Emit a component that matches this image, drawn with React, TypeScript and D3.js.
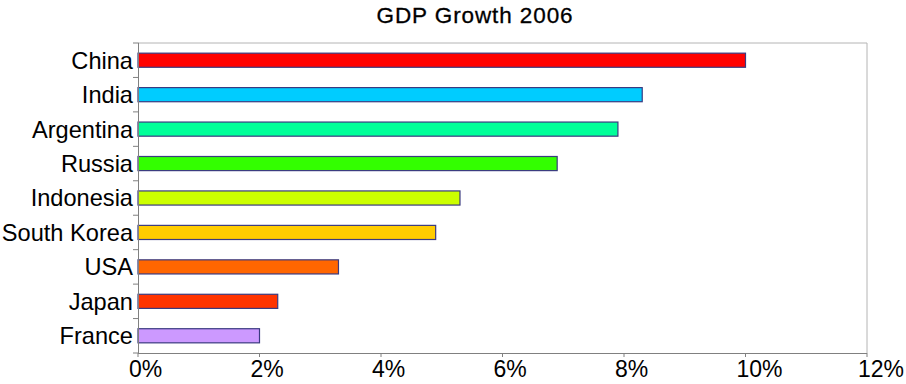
import React from "react";
import * as d3 from "d3";

const countries = ["China", "India", "Argentina", "Russia", "Indonesia", "South Korea", "USA", "Japan", "France"];
const growth = [10.0, 8.3, 7.9, 6.9, 5.3, 4.9, 3.3, 2.3, 2.0];
const barColors = ["#ff0000", "#00ccff", "#00ff99", "#33ff00", "#ccff00", "#ffcc00", "#ff6600", "#ff3300", "#cc99ff"];
const xTicks = [0, 2, 4, 6, 8, 10, 12];

const width = 906;
const height = 384;
const margin = { top: 43, right: 39, bottom: 31, left: 138 };

export default function App() {
  const innerW = width - margin.left - margin.right;
  const innerH = height - margin.top - margin.bottom;

  const x = d3.scaleLinear().domain([0, 12]).range([0, innerW]);
  const pad = 0.59;
  const y = d3.scaleBand<string>()
    .domain(countries)
    .range([0, innerH])
    .paddingInner(pad)
    .paddingOuter(pad / 2);
  const step = y.step();
  const font = "Arial, 'Liberation Sans', sans-serif";

  return (
    <svg width={width} height={height} style={{ position: "absolute", left: 0, top: 0, background: "#fff" }}>
      <text x={475} y={23} textAnchor="middle" fontFamily={font} fontSize={22.5} letterSpacing={0.9} fill="#000"
        stroke="#000" strokeWidth={0.3}>
        GDP Growth 2006
      </text>
      <g transform={`translate(${margin.left},${margin.top})`}>
        {/* frame */}
        <line x1={0} x2={innerW} y1={0} y2={0} stroke="#b4b4b4" />
        <line x1={innerW} x2={innerW} y1={0} y2={innerH} stroke="#b4b4b4" />
        {/* bars */}
        {countries.map((c, i) => (
          <rect
            key={c}
            x={x(0)}
            y={y(c)!}
            width={x(growth[i]) - x(0)}
            height={y.bandwidth()}
            fill={barColors[i]}
            stroke="#3a3a80"
            strokeWidth={1.2}
          />
        ))}
        {/* y axis */}
        <line x1={0.5} x2={0.5} y1={0} y2={innerH} stroke="#808080" />
        {d3.range(countries.length + 1).map((i) => (
          <line key={i} x1={-5} x2={0.5} y1={i * step} y2={i * step} stroke="#808080" />
        ))}
        {countries.map((c) => (
          <text
            key={c}
            x={-5}
            y={y(c)! + y.bandwidth() / 2}
            dy="0.36em"
            textAnchor="end"
            fontFamily={font}
            fontSize={23.6}
            fill="#000"
          >
            {c}
          </text>
        ))}
        {/* x axis */}
        <line x1={0} x2={innerW} y1={innerH + 0.5} y2={innerH + 0.5} stroke="#808080" />
        {xTicks.map((t) => (
          <g key={t}>
            <line x1={x(t)} x2={x(t)} y1={innerH} y2={innerH + 4} stroke="#808080" />
            <text
              x={x(t) - 9}
              y={innerH + 24}
              textAnchor="start"
              fontFamily={font}
              fontSize={23}
              fill="#000"
            >
              {t}%
            </text>
          </g>
        ))}
      </g>
    </svg>
  );
}
